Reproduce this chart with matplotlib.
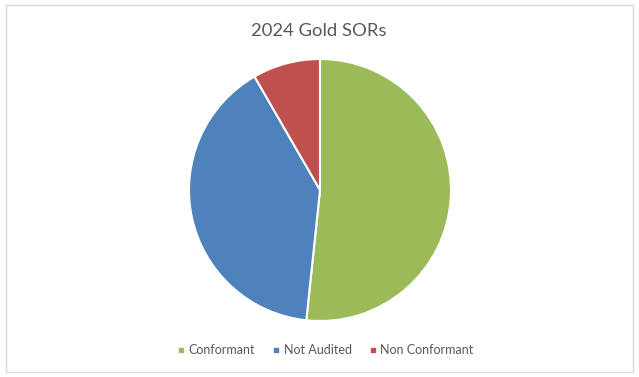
import matplotlib
matplotlib.use("Agg")
import matplotlib.pyplot as plt
from matplotlib.patches import Rectangle
from matplotlib.lines import Line2D

# === Data ===
labels = ["Conformant", "Not Audited", "Non Conformant"]
values = [31, 24, 5]
colors = ["#9BBB59", "#4F81BD", "#C0504D"]
title = "2024 Gold SORs"

plt.rcParams['font.family'] = ['Lato', 'DejaVu Sans']
text_color = "#595959"

W, H = 639, 377
fig = plt.figure(figsize=(W / 100, H / 100), dpi=100, facecolor='white')

# light chart-area border
fig.patches.append(Rectangle((6 / W, 5 / H), 627 / W, 367 / H, transform=fig.transFigure,
                             fill=False, edgecolor="#D9D9D9", linewidth=1))

# pie axes: centre (320, 190) px, radius 131 px
r = 131
ax = fig.add_axes([(320 - r) / W, (H - 190 - r) / H, 2 * r / W, 2 * r / H])
ax.pie(values, colors=colors, startangle=90, counterclock=False, radius=1,
       wedgeprops=dict(edgecolor='white', linewidth=1.5))
ax.set_xlim(-1, 1)
ax.set_ylim(-1, 1)
ax.set_aspect('equal')
ax.axis('off')

fig.text(319 / W, 1 - 31 / H, title, ha='center', va='center', fontsize=13.3, color=text_color)

handles = [Line2D([0], [0], marker='s', linestyle='none', markersize=3.5,
                  markerfacecolor=c, markeredgecolor=c) for c in colors]
fig.legend(handles, labels, loc='center', bbox_to_anchor=(324 / W, 1 - 350 / H),
           ncol=3, frameon=False, fontsize=9, labelcolor=text_color,
           handletextpad=0.1, columnspacing=1.2, handlelength=1.0)

fig.savefig("out.png", dpi=100, facecolor='white')
